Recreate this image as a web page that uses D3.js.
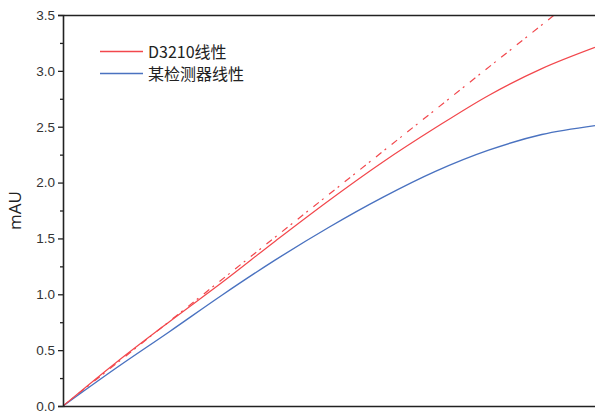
<!DOCTYPE html>
<html>
<head>
<meta charset="utf-8">
<script src="https://cdn.jsdelivr.net/npm/d3@7"></script>
<style>
  html, body { margin: 0; padding: 0; background: #fff; }
  svg { display: block; }
</style>
</head>
<body>
<svg id="chart" width="595" height="413"></svg>
<script>
// ---- data ----
const xValues = [0, 1, 2, 3, 4, 5, 6, 7, 8, 9, 10];
const d3210Values = [0, 0.39, 0.755, 1.11, 1.48, 1.84, 2.18, 2.49, 2.78, 3.02, 3.21];
const detectorValues = [0, 0.34, 0.665, 0.996, 1.31, 1.60, 1.865, 2.10, 2.29, 2.43, 2.51];
const linearFitX = [0, 10];
const linearFitY = [0, 3.79];
const yTicks = [0, 0.5, 1.0, 1.5, 2.0, 2.5, 3.0, 3.5];
const yMinorTicks = [0.25, 0.75, 1.25, 1.75, 2.25, 2.75, 3.25];
const seriesNames = ["D3210线性", "某检测器线性"];
const yAxisTitle = "mAU";

// ---- layout ----
const svg = d3.select("#chart");
const margin = { left: 63, right: 0, top: 15, bottom: 7 };
const W = 595, H = 413;
const x = d3.scaleLinear().domain([0, 10]).range([margin.left, W - margin.right]);
const y = d3.scaleLinear().domain([0, 3.5]).range([H - margin.bottom, margin.top]);

const red = "#f2474c", blue = "#4a72c0";

svg.append("defs").append("clipPath").attr("id", "clip")
  .append("rect").attr("x", margin.left).attr("y", margin.top)
  .attr("width", W - margin.left - margin.right).attr("height", y(0) - margin.top);

const g = svg.append("g").attr("clip-path", "url(#clip)");

const line = d3.line().x(d => x(d[0])).y(d => y(d[1])).curve(d3.curveCatmullRom.alpha(0.5));

// linear fit (dash-dot)
g.append("path")
  .datum(linearFitX.map((v, i) => [v, linearFitY[i]]))
  .attr("d", d3.line().x(d => x(d[0])).y(d => y(d[1])))
  .attr("fill", "none").attr("stroke", red).attr("stroke-width", 1.2)
  .attr("stroke-dasharray", "7,4,2,7");

g.append("path")
  .datum(xValues.map((v, i) => [v, detectorValues[i]]))
  .attr("d", line)
  .attr("fill", "none").attr("stroke", blue).attr("stroke-width", 1.4);

g.append("path")
  .datum(xValues.map((v, i) => [v, d3210Values[i]]))
  .attr("d", line)
  .attr("fill", "none").attr("stroke", red).attr("stroke-width", 1.2);

// ---- axes ----
const axisColor = "#222";
const yAxis = d3.axisLeft(y).tickValues(yTicks).tickFormat(d3.format(".1f")).tickSize(5).tickPadding(3);
const ya = svg.append("g").attr("transform", `translate(${margin.left},0)`).call(yAxis);
ya.select(".domain").attr("stroke", axisColor).attr("stroke-width", 1.6);
ya.selectAll(".tick line").attr("stroke", axisColor).attr("stroke-width", 1.3);
ya.selectAll(".tick text").attr("fill", "#333")
  .style("font-family", "'Liberation Sans', Arial, sans-serif").style("font-size", "13.5px");

const yMinor = d3.axisLeft(y).tickValues(yMinorTicks).tickFormat("").tickSize(3);
const ym = svg.append("g").attr("transform", `translate(${margin.left},0)`).call(yMinor);
ym.select(".domain").remove();
ym.selectAll(".tick line").attr("stroke", axisColor).attr("stroke-width", 1.3);

// bottom and top frame lines
const xAxis = d3.axisBottom(x).tickValues([]).tickSizeOuter(0);
const xa = svg.append("g").attr("transform", `translate(0,${y(0)})`).call(xAxis);
xa.select(".domain").attr("stroke", axisColor).attr("stroke-width", 1.6);
const xt = svg.append("g").attr("transform", `translate(0,${y(3.5)})`).call(d3.axisTop(x).tickValues([]).tickSizeOuter(0));
xt.select(".domain").attr("stroke", axisColor).attr("stroke-width", 1.6);

// y title
svg.append("text")
  .attr("transform", `translate(21,${(y(0) + y(3.5)) / 2}) rotate(-90)`)
  .attr("text-anchor", "middle")
  .attr("fill", "#222")
  .style("font-family", "'Open Sans', 'Noto Sans', sans-serif")
  .style("font-size", "17px")
  .text(yAxisTitle);

// ---- legend ----
const legend = svg.append("g");
const legendColors = [red, blue];
seriesNames.forEach((name, i) => {
  const ly = 51.5 + i * 22;
  legend.append("line").attr("x1", 100).attr("x2", 143).attr("y1", ly).attr("y2", ly)
    .attr("stroke", legendColors[i]).attr("stroke-width", 1.6);
  legend.append("text").attr("x", 148).attr("y", ly + 6)
    .attr("fill", "#222")
    .style("font-family", "'Noto Sans CJK SC', 'Noto Sans', sans-serif")
    .style("font-size", "16px")
    .text(name);
});
</script>
</body>
</html>
